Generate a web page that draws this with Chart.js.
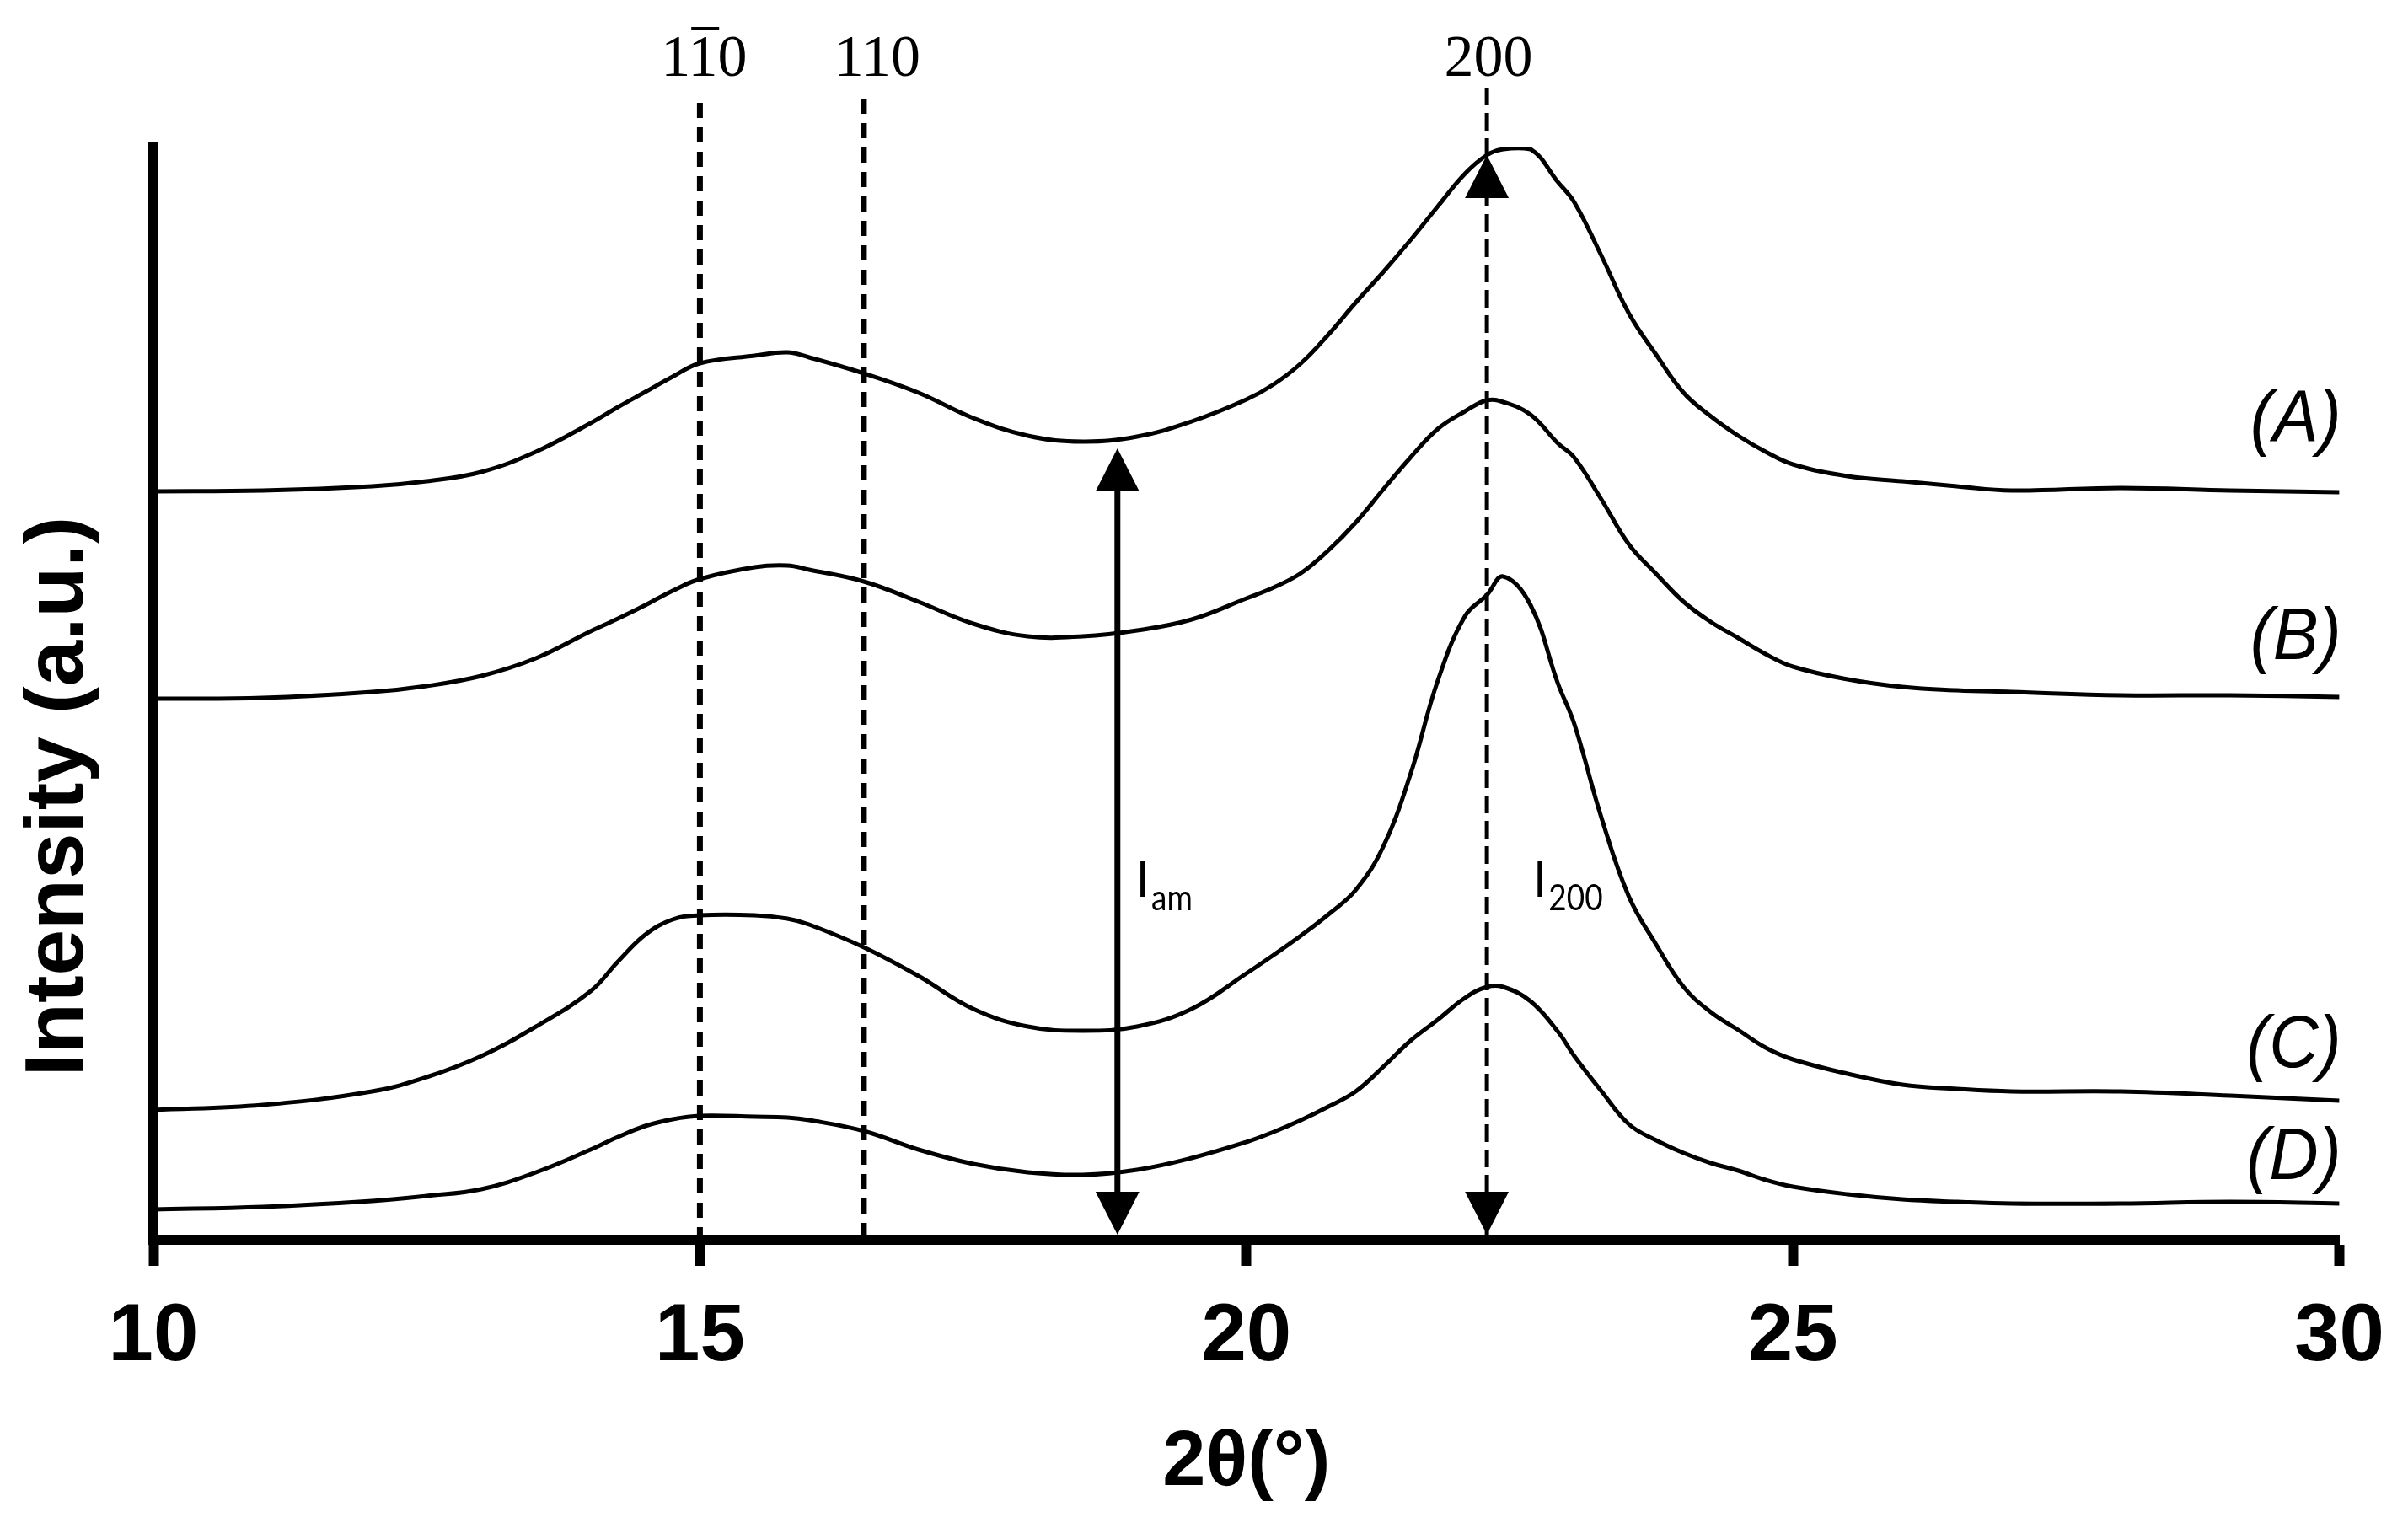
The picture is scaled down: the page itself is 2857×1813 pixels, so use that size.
<!DOCTYPE html>
<html>
<head>
<meta charset="utf-8">
<script src="https://cdn.jsdelivr.net/npm/chart.js@4"></script>
<style>
  body { margin: 0; background: #fff; }
  canvas { display: block; }
</style>
</head>
<body>
<canvas id="xrdChart" width="2857" height="1813"></canvas>
<script>
// 2-theta positions (degrees) where the traces were read
const twoTheta = [10, 11, 12, 12.5, 13, 13.5, 14, 14.25, 14.5, 14.75, 15, 15.5, 15.8, 16, 16.5, 17, 17.5, 18, 18.5, 19,
  19.5, 20, 20.25, 20.5, 20.75, 21, 21.25, 21.5, 21.75, 22, 22.2, 22.35, 22.6, 22.85, 23, 23.25, 23.5, 23.75, 24, 24.25,
  24.5, 24.75, 25, 25.5, 26, 26.5, 27, 28, 29, 30];

// intensities (a.u., traces already offset as in the figure)
const seriesA = [888, 889, 894, 900, 911, 935, 969, 988, 1006, 1024, 1040, 1049, 1053, 1047, 1028, 1005, 975, 954, 947, 953,
  971, 997, 1015, 1040, 1074, 1112, 1148, 1186, 1226, 1265, 1287, 1294, 1294, 1255, 1231, 1167, 1099, 1050, 1005, 977,
  954, 935, 920, 906, 900, 894, 889, 892, 889, 887];
const seriesB = [642, 643, 650, 657, 669, 690, 722, 737, 753, 770, 784, 798, 800, 795, 781, 757, 731, 716, 716, 723,
  736, 761, 774, 791, 818, 851, 890, 928, 962, 983, 996, 994, 979, 945, 928, 878, 825, 790, 757, 733,
  714, 695, 680, 665, 656, 652, 650, 646, 646, 644];
const seriesC = [154, 160, 176, 193, 218, 253, 295, 330, 362, 380, 385, 385, 381, 374, 347, 313, 274, 253, 248, 253,
  274, 316, 338, 361, 386, 415, 466, 552, 663, 740, 765, 787, 753, 660, 612, 500, 407, 350, 300, 270,
  249, 228, 214, 197, 184, 179, 176, 176, 171, 165];
const seriesD = [36, 39, 46, 52, 60, 80, 107, 122, 135, 143, 147, 146, 145, 142, 129, 107, 90, 80, 77, 83,
  97, 116, 128, 142, 158, 176, 205, 236, 261, 287, 300, 300, 283, 247, 218, 176, 137, 118, 103, 91,
  82, 71, 63, 54, 48, 45, 43, 43, 45, 43];
const seriesNames = ["(A)", "(B)", "(C)", "(D)"];

const xTicks = [10, 15, 20, 25, 30];

// reflections marked with dashed lines
const peakLabels = ["110", "110", "200"];   // first one is 1-10 (bar over the middle 1)
const peakPositions = [15.0, 16.5, 22.2];

// intensity measures
const amorphousAngle = 18.82;
const amorphousTop = 939;
const crystallineTop = 1287;

const allSeries = [seriesA, seriesB, seriesC, seriesD];

function drawScaled(ctx, text, x, y, sx) {
  ctx.save();
  ctx.translate(x, y);
  ctx.scale(sx, 1);
  ctx.fillText(text, 0, 0);
  ctx.restore();
  return ctx.measureText(text).width * sx;
}

function arrowHead(ctx, x, tipY, dir) {
  // dir = -1 points up, 1 points down
  const h = 51, half = 26;
  ctx.beginPath();
  ctx.moveTo(x, tipY);
  ctx.lineTo(x - half, tipY - dir * h);
  ctx.lineTo(x + half, tipY - dir * h);
  ctx.closePath();
  ctx.fill();
}

const annotations = {
  id: "annotations",
  beforeDatasetsDraw(chart) {
    const { ctx, scales: { x, y } } = chart;
    const tops = [122, 117, 104];
    ctx.save();
    ctx.strokeStyle = "#000";
    peakPositions.forEach((pos, i) => {
      const px = x.getPixelForValue(pos);
      ctx.lineWidth = i === 2 ? 5 : 7;
      ctx.setLineDash(i === 2 ? [21, 9] : [18, 11]);
      ctx.beginPath();
      ctx.moveTo(px, tops[i]);
      ctx.lineTo(px, y.getPixelForValue(0));
      ctx.stroke();
    });
    ctx.restore();
  },
  afterDatasetsDraw(chart) {
    const { ctx, scales: { x, y }, chartArea } = chart;
    const axisTop = chartArea.bottom - 6;
    ctx.save();
    ctx.fillStyle = "#000";
    ctx.strokeStyle = "#000";

    // I_am arrow (solid, double headed)
    const ax = x.getPixelForValue(amorphousAngle);
    const aTop = y.getPixelForValue(amorphousTop);
    ctx.lineWidth = 7;
    ctx.beginPath();
    ctx.moveTo(ax, aTop + 20);
    ctx.lineTo(ax, axisTop - 20);
    ctx.stroke();
    arrowHead(ctx, ax, aTop, -1);
    arrowHead(ctx, ax, axisTop, 1);

    // I_200 arrow heads on the dashed 200 line
    const cx = x.getPixelForValue(peakPositions[2]);
    arrowHead(ctx, cx, y.getPixelForValue(crystallineTop), -1);
    arrowHead(ctx, cx, axisTop, 1);

    // I_am / I_200 labels
    ctx.textAlign = "left";
    ctx.textBaseline = "alphabetic";
    [[ax + 22, "am"], [cx + 55, "200"]].forEach(([lx, sub]) => {
      ctx.font = "58px Lato, 'Open Sans', 'DejaVu Sans', sans-serif";
      const w = drawScaled(ctx, "I", lx, 1064, 1);
      ctx.font = "42px Lato, 'Open Sans', 'DejaVu Sans', sans-serif";
      drawScaled(ctx, sub, lx + w + 2, 1080, 0.88);
    });

    // reflection labels above the plot
    ctx.font = "70px 'Liberation Serif'";
    ctx.textAlign = "center";
    const dx = [5, 16, 2];
    peakLabels.forEach((lab, i) => {
      const px = x.getPixelForValue(peakPositions[i]) + dx[i];
      ctx.fillText(lab, px, 90);
      if (i === 0) {
        const full = ctx.measureText(lab).width;
        const one = ctx.measureText("1").width;
        const left = px - full / 2 + one;
        ctx.fillRect(left + 1, 32, one - 2, 4);
      }
    });

    // curve labels on the right
    ctx.font = "italic 88px 'Liberation Sans'";
    ctx.textAlign = "right";
    const offsets = [60, 45, 40, 29];
    seriesNames.forEach((name, i) => {
      const s = allSeries[i];
      const by = y.getPixelForValue(s[s.length - 1]) - offsets[i];
      drawScaled(ctx, name, chartArea.right + 2, by, 0.92);
    });
    ctx.restore();
  },
  afterDraw(chart) {
    const { ctx } = chart;
    ctx.save();
    ctx.translate(98, 945);
    ctx.rotate(-Math.PI / 2);
    ctx.font = "bold 98px 'Liberation Sans'";
    ctx.fillStyle = "#000";
    ctx.textAlign = "center";
    ctx.textBaseline = "alphabetic";
    ctx.fillText("Intensity (a.u.)", 0, 0);
    ctx.restore();
  }
};

new Chart(document.getElementById("xrdChart"), {
  type: "line",
  data: {
    datasets: allSeries.map((s, i) => ({
      label: seriesNames[i],
      data: twoTheta.map((t, j) => ({ x: t, y: s[j] })),
      borderColor: "#000",
      borderWidth: 5,
      pointRadius: 0,
      fill: false,
      tension: 0.4
    }))
  },
  options: {
    responsive: false,
    devicePixelRatio: 1,
    animation: false,
    layout: { padding: { top: 175, right: 77, left: 0, bottom: 0 } },
    plugins: { legend: { display: false }, tooltip: { enabled: false } },
    scales: {
      x: {
        type: "linear",
        min: 10,
        max: 30,
        afterFit(scale) { scale.height = 342; },
        afterBuildTicks(scale) { scale.ticks = xTicks.map(v => ({ value: v })); },
        grid: { drawOnChartArea: false, drawTicks: true, tickLength: 31, tickWidth: 12, color: "#000" },
        border: { display: true, color: "#000", width: 12 },
        ticks: {
          color: "#000",
          padding: 28,
          maxRotation: 0,
          font: { family: "'Liberation Sans'", weight: "bold", size: 96, lineHeight: 1.2 }
        },
        title: {
          display: true,
          text: "2θ(°)",
          color: "#000",
          padding: { top: 0, bottom: 30 },
          font: { family: "'Liberation Sans'", weight: "bold", size: 92, lineHeight: 1 }
        }
      },
      y: {
        min: 0,
        max: 1296,
        afterFit(scale) { scale.width = 182; },
        grid: { drawOnChartArea: false, drawTicks: false },
        border: { display: true, color: "#000", width: 12 },
        ticks: { display: false }
      }
    }
  },
  plugins: [annotations]
});
</script>
</body>
</html>
